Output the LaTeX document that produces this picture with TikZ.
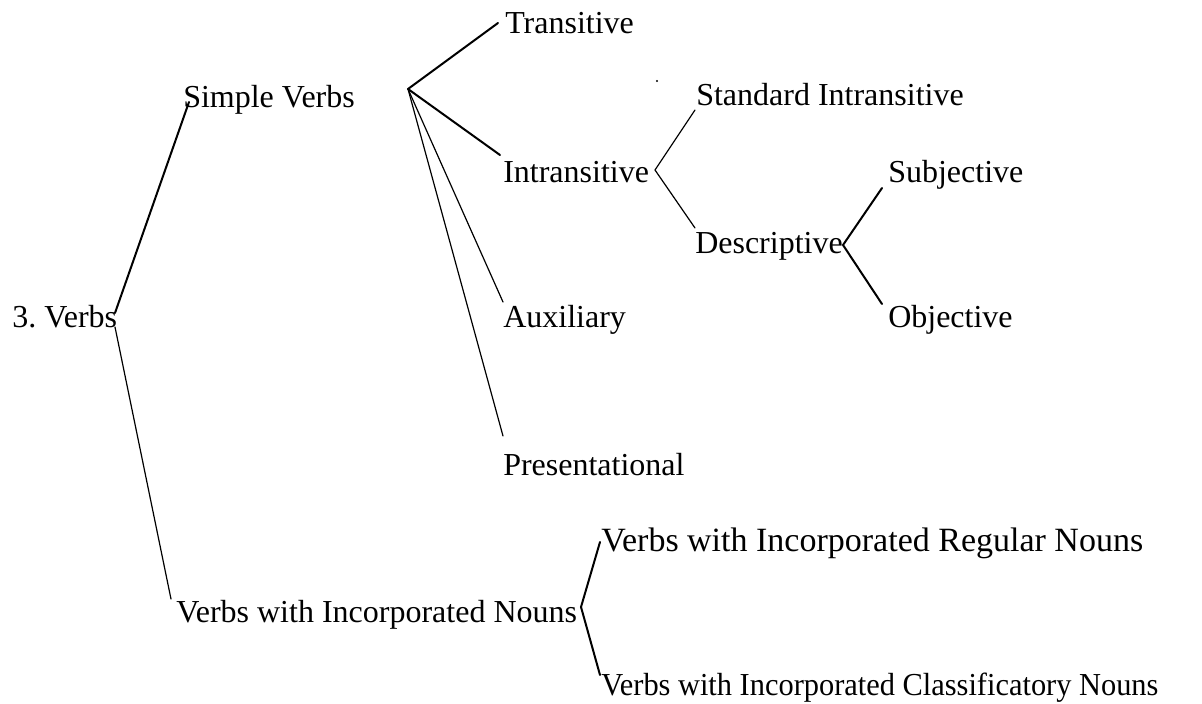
\documentclass[tikz,border=0pt]{standalone}
\usepackage{graphicx}
\usepackage{fontspec}
\setmainfont{Liberation Serif}
\begin{document}
\frenchspacing
\begin{tikzpicture}[x=0.75pt,y=-0.75pt,
  lbl/.style={inner sep=0pt,anchor=base west,font=\fontsize{24}{26}\selectfont},
  thick line/.style={line width=1.5pt,line cap=round},
  thin line/.style={line width=0.9pt,line cap=round}]
\useasboundingbox (0,0) rectangle (1202,703);
% labels
\node[lbl] (verbs) at (12,327) {3.\ Verbs};
\node[lbl] (simple) at (183,107) {Simple Verbs};
\node[lbl] (trans) at (505,33) {Transitive};
\node[lbl] (intrans) at (503,182) {Intransitive};
\node[lbl] (stdint) at (696,105) {Standard Intransitive};
\node[lbl] (descr) at (695,253) {Descriptive};
\node[lbl] (subj) at (888,182) {Subjective};
\node[lbl] (obj) at (888,327) {Objective};
\node[lbl] (aux) at (503,327) {Auxiliary};
\node[lbl] (pres) at (503,475) {Presentational};
\node[lbl] (vwin) at (176,622) {Verbs with Incorporated Nouns};
\node[lbl,font=\fontsize{25.5}{27}\selectfont] (reg) at (601,551) {Verbs with Incorporated Regular Nouns};
\node[lbl] (cls) at (601,695) {\scalebox{0.95}[1]{Verbs with Incorporated Classificatory Nouns}};
% connector points
\coordinate (verbs-a) at (115,313);
\coordinate (verbs-b) at (115,327);
\coordinate (simple-in) at (189,102);
\coordinate (simple-hub) at (408,89);
\coordinate (trans-in) at (498,23);
\coordinate (intrans-in) at (500,155);
\coordinate (aux-in) at (503,302);
\coordinate (pres-in) at (503,436);
\coordinate (intrans-hub) at (655,170);
\coordinate (stdint-in) at (695,110);
\coordinate (descr-in) at (695,228);
\coordinate (descr-hub) at (843,245);
\coordinate (subj-in) at (882,188);
\coordinate (obj-in) at (882,304);
\coordinate (vwin-in) at (171,599);
\coordinate (vwin-hub) at (581,607);
\coordinate (reg-in) at (600,542);
\coordinate (cls-in) at (600,675);
% connectors
\draw[thick line] (verbs-a) -- (simple-in);
\draw[thin line] (verbs-b) -- (vwin-in);
\draw[thick line] (simple-hub) -- (trans-in);
\draw[thick line] (simple-hub) -- (intrans-in);
\draw[thin line] (simple-hub) -- (aux-in);
\draw[thin line] (simple-hub) -- (pres-in);
\draw[thin line] (stdint-in) -- (intrans-hub) -- (descr-in);
\draw[thick line] (subj-in) -- (descr-hub) -- (obj-in);
\draw[thick line] (reg-in) -- (vwin-hub) -- (cls-in);
\fill (657,81) circle[radius=0.8pt];
\end{tikzpicture}
\end{document}
